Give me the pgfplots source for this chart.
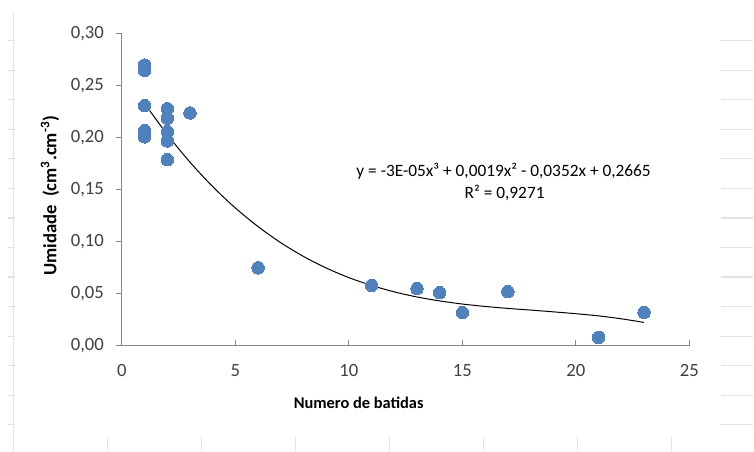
\documentclass[border=0pt]{standalone}
\usepackage{pgfplots}
\pgfplotsset{compat=1.18}
\usepackage{fontspec}
\setmainfont{Carlito}
\definecolor{xlblue}{HTML}{4F81BD}
\definecolor{axgray}{HTML}{868686}
\definecolor{cellgray}{HTML}{E2E2E2}
\definecolor{ticktext}{HTML}{404040}

% measured points (batidas, umidade)
\pgfplotstableread{
x  y
1  0.270
1  0.265
1  0.231
1  0.207
1  0.201
2  0.228
2  0.219
2  0.206
2  0.197
2  0.179
3  0.224
6  0.075
11 0.058
13 0.055
14 0.051
15 0.032
17 0.052
21 0.008
23 0.032
}\dados

% trend line
\pgfplotstableread{
x  y
1  0.2331
2  0.2032
3  0.1766
4  0.1531
5  0.1325
6  0.1146
7  0.0991
8  0.0859
9  0.0748
10 0.0655
11 0.0580
12 0.0518
13 0.0469
14 0.0431
15 0.0401
16 0.0378
17 0.0359
18 0.0343
19 0.0326
20 0.0308
21 0.0287
22 0.0259
23 0.0224
}\tendencia

\begin{document}
\begin{tikzpicture}
% frame of the screenshot and the spreadsheet cell lines (pixel units)
\begin{scope}[x=0.75pt,y=-0.75pt,yshift=338.25pt]
\path (0,0) rectangle (754,451);
\draw[cellgray, line width=0.9pt] (13.5,13) -- (13.5,451);
\foreach \y in {40.7,70.3,99.8,129.4,159,188.6,218.1,247.7,277.2,306.8,336.4,365.9,395.5,425.1} {
  \draw[cellgray, line width=0.9pt] (8,\y) -- (15,\y);
  \draw[cellgray, line width=0.9pt] (722,\y) -- (754,\y);
}
\foreach \x in {107.5,202,296,390,484,578,672}
  \draw[cellgray, line width=0.9pt] (\x,437) -- (\x,451);
\end{scope}

\begin{axis}[
  at={(91.5pt,78.75pt)}, anchor=south west,
  width=426pt, height=234pt, scale only axis,
  xmin=0, xmax=25, ymin=0, ymax=0.30,
  xtick={0,5,10,15,20,25},
  ytick={0,0.05,0.10,0.15,0.20,0.25,0.30},
  axis x line*=bottom, axis y line*=left,
  axis line style={axgray, line width=0.75pt, -},
  tick align=inside, major tick length=4.5pt,
  tick style={axgray, line width=0.75pt},
  ytick style={xshift=-4.5pt},
  /pgf/number format/assume math mode=true,
  ticklabel style={font=\fontsize{14}{16}\selectfont, text=ticktext},
  xticklabel style={yshift=-10.5pt},
  yticklabel style={xshift=-10pt,
    /pgf/number format/.cd, fixed, fixed zerofill, precision=2, use comma},
  clip=false,
]
\addplot[only marks, mark=*, mark size=4.7pt,
  mark options={fill=xlblue, draw=xlblue, line width=0pt}] table {\dados};
\addplot[black, line width=0.75pt, smooth, no marks] table {\tendencia};
\end{axis}

\begin{scope}[x=0.75pt,y=-0.75pt,yshift=338.25pt]
\node[font=\fontsize{14}{16}\selectfont\bfseries, rotate=90] at (50,196)
  {Umidade\ \ (cm\textsuperscript{3}.cm\textsuperscript{-3})};
\node[font=\fontsize{12.3}{14}\selectfont\bfseries] at (359,403) {Numero de batidas};
\node[font=\fontsize{13}{15}\selectfont] at (504,171) {y = -3E-05x³ + 0,0019x² - 0,0352x + 0,2665};
\node[font=\fontsize{13}{15}\selectfont] at (505,193) {R² = 0,9271};
\end{scope}
\end{tikzpicture}
\end{document}
